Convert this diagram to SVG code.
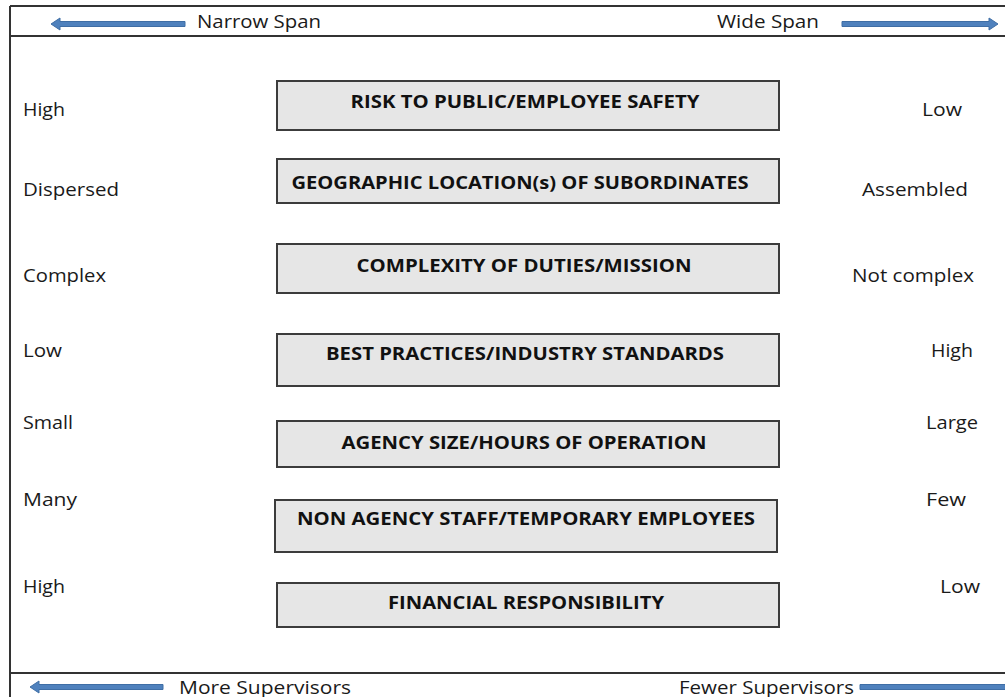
<svg xmlns="http://www.w3.org/2000/svg" width="1005" height="697" viewBox="0 0 1005 697">
<style>
.lbl{font-family:"Open Sans","Liberation Sans",sans-serif;font-size:18.5px;fill:#1a1a1a}
.box{fill:#e6e6e6;stroke:#3c3c3c;stroke-width:2}
.bt{font-family:"Open Sans","Liberation Sans",sans-serif;font-size:17px;font-weight:bold;fill:#111;text-anchor:middle}
.frame{stroke:#333;stroke-width:2;fill:none}
.arr{fill:#4f81bd;stroke:#3f6ea5;stroke-width:1}
</style>
<rect width="1005" height="697" fill="#fff"/>
<g id="frame">
<line class="frame" x1="10" y1="6" x2="1005" y2="6" stroke="#666"/>
<line class="frame" x1="10" y1="6" x2="10" y2="697"/>
<line class="frame" x1="10" y1="36" x2="1005" y2="36"/>
<line class="frame" x1="10" y1="673" x2="1005" y2="673"/>
</g>
<g id="connectors">
<path class="arr" d="M185,21.5 L60,21.5 L60,18 L51,24 L60,30 L60,26.5 L185,26.5 Z"/>
<path class="arr" d="M842,21.5 L989,21.5 L989,18 L998,24 L989,30 L989,26.5 L842,26.5 Z"/>
<path class="arr" d="M163,684.5 L39,684.5 L39,681 L30,687 L39,693 L39,689.5 L163,689.5 Z"/>
<path class="arr" d="M860,684.5 L1010,684.5 L1010,689.5 L860,689.5 Z"/>
</g>
<g id="headers">
<text class="lbl" x="197" y="28" textLength="124" lengthAdjust="spacingAndGlyphs">Narrow Span</text>
<text class="lbl" x="717" y="28" textLength="102" lengthAdjust="spacingAndGlyphs">Wide Span</text>
<text class="lbl" x="179" y="694" textLength="172" lengthAdjust="spacingAndGlyphs">More Supervisors</text>
<text class="lbl" x="679" y="694" textLength="175" lengthAdjust="spacingAndGlyphs">Fewer Supervisors</text>
</g>
<g id="node1">
<rect class="box" x="277" y="81" width="502" height="49"/>
<text class="bt" x="525" y="108" textLength="349" lengthAdjust="spacingAndGlyphs">RISK TO PUBLIC/EMPLOYEE SAFETY</text>
<text class="lbl" x="23" y="116" textLength="42" lengthAdjust="spacingAndGlyphs">High</text>
<text class="lbl" x="922" y="116" textLength="40" lengthAdjust="spacingAndGlyphs">Low</text>
</g>
<g id="node2">
<rect class="box" x="277" y="159" width="502" height="44"/>
<text class="bt" x="520" y="189" textLength="457" lengthAdjust="spacingAndGlyphs">GEOGRAPHIC LOCATION(s) OF SUBORDINATES</text>
<text class="lbl" x="23" y="196" textLength="96" lengthAdjust="spacingAndGlyphs">Dispersed</text>
<text class="lbl" x="862" y="196" textLength="106" lengthAdjust="spacingAndGlyphs">Assembled</text>
</g>
<g id="node3">
<rect class="box" x="277" y="244" width="502" height="49"/>
<text class="bt" x="524" y="272" textLength="335" lengthAdjust="spacingAndGlyphs">COMPLEXITY OF DUTIES/MISSION</text>
<text class="lbl" x="23" y="282" textLength="83" lengthAdjust="spacingAndGlyphs">Complex</text>
<text class="lbl" x="852" y="282" textLength="122" lengthAdjust="spacingAndGlyphs">Not complex</text>
</g>
<g id="node4">
<rect class="box" x="277" y="334" width="502" height="52"/>
<text class="bt" x="525" y="360" textLength="398" lengthAdjust="spacingAndGlyphs">BEST PRACTICES/INDUSTRY STANDARDS</text>
<text class="lbl" x="23" y="357" textLength="39" lengthAdjust="spacingAndGlyphs">Low</text>
<text class="lbl" x="931" y="357" textLength="42" lengthAdjust="spacingAndGlyphs">High</text>
</g>
<g id="node5">
<rect class="box" x="277" y="421" width="502" height="46"/>
<text class="bt" x="524" y="449" textLength="365" lengthAdjust="spacingAndGlyphs">AGENCY SIZE/HOURS OF OPERATION</text>
<text class="lbl" x="23" y="429" textLength="50" lengthAdjust="spacingAndGlyphs">Small</text>
<text class="lbl" x="926" y="429" textLength="52" lengthAdjust="spacingAndGlyphs">Large</text>
</g>
<g id="node6">
<rect class="box" x="275" y="500" width="502" height="52"/>
<text class="bt" x="526" y="525" textLength="458" lengthAdjust="spacingAndGlyphs">NON AGENCY STAFF/TEMPORARY EMPLOYEES</text>
<text class="lbl" x="23" y="506" textLength="54" lengthAdjust="spacingAndGlyphs">Many</text>
<text class="lbl" x="926" y="506" textLength="40" lengthAdjust="spacingAndGlyphs">Few</text>
</g>
<g id="node7">
<rect class="box" x="277" y="583" width="502" height="44"/>
<text class="bt" x="526" y="609" textLength="276" lengthAdjust="spacingAndGlyphs">FINANCIAL RESPONSIBILITY</text>
<text class="lbl" x="23" y="593" textLength="42" lengthAdjust="spacingAndGlyphs">High</text>
<text class="lbl" x="940" y="593" textLength="40" lengthAdjust="spacingAndGlyphs">Low</text>
</g>
</svg>
